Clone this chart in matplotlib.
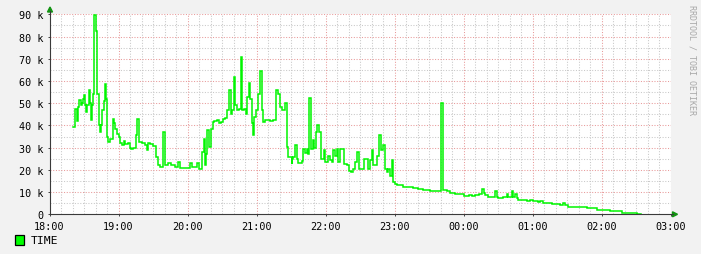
import matplotlib
matplotlib.use('Agg')
import matplotlib.pyplot as plt
from matplotlib.lines import Line2D
from matplotlib.patches import Rectangle, Polygon

# ---------------- data (minutes after 18:00, value in thousands) ----------------
MINUTES = [
    20, 22, 24, 25, 26, 27, 28, 29, 30, 31,
    32, 33, 34, 35, 36, 37, 38, 39, 40, 41,
    43, 44, 45, 46, 47, 48, 49, 50, 51, 53,
    55, 56, 57, 59, 60, 61, 63, 65, 66, 68,
    70, 71, 73, 75, 76, 78, 80, 83, 85, 86,
    87.5, 90, 93, 94, 96, 99, 100.5, 103, 106, 109,
    112, 113.5, 122, 124, 128, 130, 132.6, 134, 135, 136,
    137, 139, 140.5, 142, 143, 145.5, 147, 149, 151, 153,
    154.6, 156, 157.6, 158.4, 160, 161.3, 163.3, 165, 166.3, 167.4,
    169, 171, 172, 173.2, 174.3, 175.8, 177.2, 178, 179.6, 181.6,
    183, 184.8, 186, 187.4, 191.7, 194.6, 197, 199, 200.4, 202,
    204.8, 206.3, 207.7, 210.6, 211.3, 212, 213.5, 215, 216.3, 219.3,
    220.7, 222, 223.7, 225, 226, 227, 228.7, 230.4, 232, 233,
    234.6, 235.8, 238.7, 239.8, 242.4, 244, 245.4, 246.8, 248.3, 249.7,
    251, 253, 256, 258.4, 260.7, 262, 263.7, 265.7, 267.7, 269.4,
    273.5, 277.2, 278.7, 280.2, 281.6, 285, 286.8, 288, 289.7, 291.7,
    293.2, 294.6, 296, 297.6, 299, 300.4, 302, 307.4, 310.6, 316,
    320.4, 324.8, 331, 340.4, 342, 345.4, 348.3, 352.6, 358.4, 360,
    364.5, 367.5, 370.4, 373.5, 376.1, 377.4, 378.7, 381.6, 383, 387.4,
    388.9, 390.3, 394.6, 397.6, 399, 402, 403.3, 404.8, 406.3, 407.7,
    410.6, 415, 416.5, 418, 420.7, 425, 426.5, 429.4, 433.7, 436.7,
    439.6, 444, 446.8, 448.3, 451, 460, 467, 470, 473, 476,
    487.4, 497.6, 505, 510.6, 514,
]
TIME_K = [
    39.2, 47.5, 42, 48.5, 51.5, 49, 50, 52, 53.5, 49,
    46, 49, 56, 50, 42.5, 49, 54, 89.5, 82.5, 54,
    40, 37, 40, 47, 51, 58.5, 52, 35, 32.5, 34,
    43, 41, 38.5, 36, 35, 32, 31, 33, 31.5, 32,
    30, 29.5, 30, 35.5, 43, 32.5, 32, 31, 29, 32,
    31.8, 30.8, 26, 22, 21.5, 37, 22, 23, 22, 21.5,
    23.5, 20.8, 23, 21.3, 23, 20.3, 28, 34, 22, 27,
    38, 30.5, 38.6, 41.7, 42, 42.5, 41, 41.7, 43, 43.3,
    47, 56, 45, 47, 62, 49, 47, 47.5, 71, 47,
    47.5, 45, 53, 59, 52, 41, 35.6, 44, 47, 54,
    64.5, 47, 41.7, 42.4, 42, 42.4, 56, 54, 48.5, 47,
    50, 30.3, 25.8, 22.7, 25, 25.8, 31, 25, 23, 24.2,
    29.5, 27.5, 29.5, 27, 52.3, 29.5, 33.3, 30, 37, 40,
    37, 25, 28.8, 23.5, 26.4, 24.5, 23.5, 28.8, 26.4, 29.5,
    23.5, 29.5, 22.7, 22, 19.7, 19, 20.5, 23.5, 28, 20.5,
    25, 20.5, 24.5, 28.8, 22, 26.4, 35.6, 29, 31, 20.5,
    19, 20.5, 17.4, 24.5, 14.4, 13.6, 13, 12.5, 12.1, 11.7,
    11.3, 11.0, 10.6, 50, 11, 10.6, 9.6, 9.3, 9.0, 8.3,
    8.5, 8.3, 8.5, 9.0, 11.6, 9.8, 8.5, 8.0, 7.9, 10.6,
    7.9, 7.3, 7.9, 9.3, 7.9, 10.6, 7.9, 9.3, 7.3, 6.4,
    6.6, 5.8, 6.1, 6.6, 5.8, 5.4, 5.8, 5.3, 5.0, 4.5,
    4.8, 4.2, 5.3, 4.2, 3.5, 3.3, 3.0, 2.9, 2.7, 1.8,
    1.3, 0.8, 0.4, 0, 0,
]
assert len(MINUTES) == len(TIME_K)

X_TICK_LABELS = ["18:00", "19:00", "20:00", "21:00", "22:00", "23:00",
                 "00:00", "01:00", "02:00", "03:00"]
Y_TICK_VALUES = [0, 10, 20, 30, 40, 50, 60, 70, 80, 90]
Y_TICK_LABELS = ["0"] + [f"{v} k" for v in Y_TICK_VALUES[1:]]
SERIES_NAME = "TIME"
WATERMARK = "RRDTOOL / TOBI OETIKER"

# ---------------- figure ----------------
W, H = 701, 255
MONO = ['DejaVu Sans Mono']
fig = plt.figure(figsize=(W / 100, H / 100), dpi=100, facecolor='#F2F2F2')

def fx(x):
    return x / W

def fy(y):
    return 1 - y / H

L, R, T, B = 49.5, 670.5, 15.3, 215.3
ax = fig.add_axes([fx(L), fy(B), fx(R) - fx(L), (B - T) / H])
ax.set_facecolor('white')
ax.set_xlim(0, 540)
ax.set_ylim(0, 90)

minor_c = '#C8C8C8'
major_c = '#E89A9A'
dot_minor = (0, (1, 1.6))
dot_major = (0, (1, 1.6))
for m in range(10, 540, 10):
    if m % 60:
        ax.axvline(m, color=minor_c, lw=0.75, ls=dot_minor, zorder=1)
for v in range(5, 90, 10):
    ax.axhline(v, color=minor_c, lw=0.75, ls=dot_minor, zorder=1)
for m in range(60, 541, 60):
    ax.axvline(m, color=major_c, lw=0.75, ls=dot_major, zorder=1.5)
for v in range(10, 91, 10):
    ax.axhline(v, color=major_c, lw=0.75, ls=dot_major, zorder=1.5)

ax.step(MINUTES, TIME_K, where='post', color='#00F500', lw=1.1, zorder=3,
        solid_joinstyle='miter')

for s in ax.spines.values():
    s.set_visible(False)

ax.set_xticks(range(0, 541, 60))
ax.set_xticklabels(X_TICK_LABELS, family=MONO, fontsize=7.3)
ax.set_yticks(Y_TICK_VALUES)
ax.set_yticklabels(Y_TICK_LABELS, family=MONO, fontsize=7.3)
ax.tick_params(axis='both', length=1.5, width=0.7, color='#404040')
ax.tick_params(axis='x', pad=3.2)
ax.tick_params(axis='y', pad=2.6)

# axes lines with arrows
axis_c = '#3A3A3A'
fig.add_artist(Line2D([fx(50), fx(50)], [fy(215.3), fy(12)], color=axis_c,
                      lw=0.8, transform=fig.transFigure))
fig.add_artist(Line2D([fx(50), fx(673)], [fy(215.3), fy(215.3)], color=axis_c,
                      lw=0.8, transform=fig.transFigure))
arrow_c = '#139413'
fig.add_artist(Polygon([[fx(47.5), fy(13)], [fx(52.5), fy(13)], [fx(50), fy(8)]],
                       closed=True, color=arrow_c, transform=fig.transFigure))
fig.add_artist(Polygon([[fx(672.5), fy(212.8)], [fx(672.5), fy(217.8)], [fx(677.5), fy(215.3)]],
                       closed=True, color=arrow_c, transform=fig.transFigure))

# legend
fig.add_artist(Rectangle((fx(15), fy(246)), 9 / W, 10 / H, facecolor='#00FF00',
                         edgecolor='black', lw=0.9, transform=fig.transFigure))
fig.text(fx(30.5), fy(241.5), SERIES_NAME, family=MONO, fontsize=8.2,
         ha='left', va='center')

# watermark
fig.text(fx(692), fy(60), WATERMARK, family=MONO, fontsize=6.0, color='#A8A8A8',
         rotation=270, ha='center', va='center')

fig.savefig('out.png', dpi=100, facecolor=fig.get_facecolor())
